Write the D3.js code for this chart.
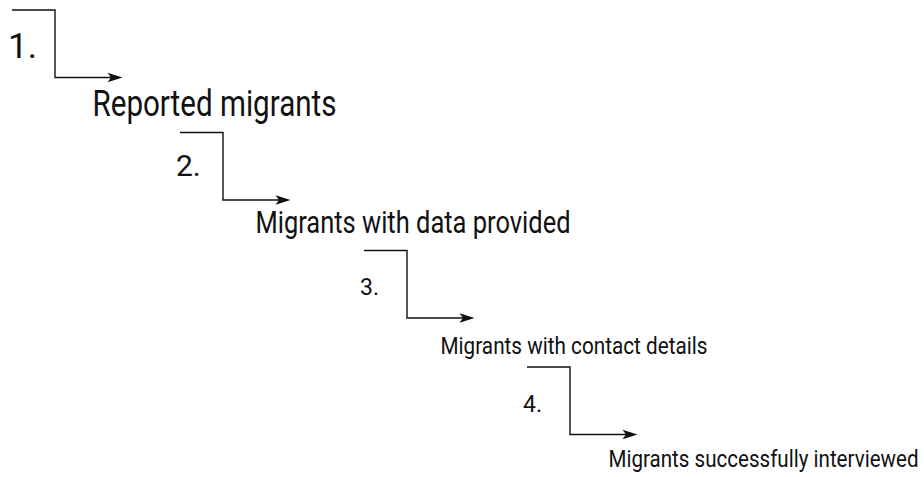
<!DOCTYPE html>
<html>
<head>
<meta charset="utf-8">
<script src="https://cdn.jsdelivr.net/npm/d3@7"></script>
<style>
  html, body { margin: 0; padding: 0; background: #fff; overflow: hidden; }
  svg { display: block; }
  text { font-family: Roboto, "Liberation Sans", sans-serif; fill: #111; font-weight: 400; }
</style>
</head>
<body>
<svg id="chart" width="924" height="477"></svg>
<script>
// ---- data ----
const stepNumbers = ["1.", "2.", "3.", "4."];
const stepLabels = [
  "Reported migrants",
  "Migrants with data provided",
  "Migrants with contact details",
  "Migrants successfully interviewed"
];

// ---- layout (positions / sizes / styles) ----
const stepCorner = [55, 223, 407, 570];       // x of vertical connector
const stepTop    = [10, 132.5, 250.5, 367];   // y of top bar
const barLen = 43, dropLen = 67.5, arrowLen = 67.5;
const numFont   = [35, 30, 23, 23];
const numDy     = [48, 43.5, 44.5, 45];
const labelFont = [36, 31.5, 24.5, 23.5];
const labelWidth = [244, 315, 267, 310];
const labelDx = [-30, -35, -34, -29];
const labelDy = [38.5, 33, 36, 32.5];

const svg = d3.select("#chart");

const idx = d3.range(stepLabels.length);
const xPos = d3.scaleOrdinal().domain(idx).range(stepCorner);
const yPos = d3.scaleOrdinal().domain(idx).range(stepTop);

const g = svg.selectAll("g.step").data(idx).join("g").attr("class", "step");

// connector: top bar, vertical drop, horizontal arrow shaft
g.append("path")
  .attr("fill", "none")
  .attr("stroke", "#111")
  .attr("stroke-width", 1.4)
  .attr("d", i => {
    const x = xPos(i), y = yPos(i);
    return `M${x - barLen},${y}H${x}V${y + dropLen}H${x + arrowLen - 10}`;
  });

// arrowhead
g.append("path")
  .attr("fill", "#111")
  .attr("d", i => {
    const tx = xPos(i) + arrowLen, ty = yPos(i) + dropLen;
    return `M${tx},${ty}L${tx - 15},${ty - 4.8}L${tx - 11.5},${ty}L${tx - 15},${ty + 4.8}Z`;
  });

// step numbers
g.append("text")
  .attr("x", i => xPos(i) - barLen - 4)
  .attr("y", i => yPos(i) + numDy[i])
  .attr("font-size", i => numFont[i])
  .text(i => stepNumbers[i]);

// labels
g.append("text")
  .attr("x", i => xPos(i) + arrowLen + labelDx[i])
  .attr("y", i => yPos(i) + dropLen + labelDy[i])
  .attr("font-size", i => labelFont[i])
  .attr("textLength", i => labelWidth[i])
  .attr("lengthAdjust", "spacingAndGlyphs")
  .text(i => stepLabels[i]);
</script>
</body>
</html>
